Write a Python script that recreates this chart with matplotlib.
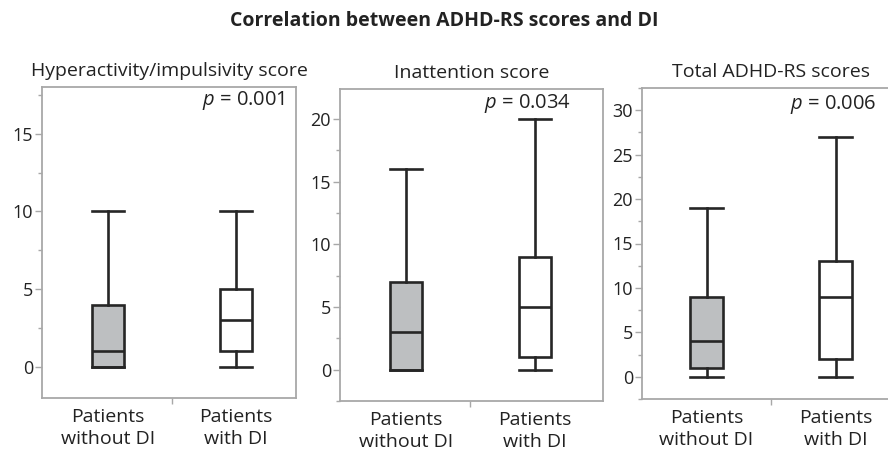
import matplotlib
matplotlib.use("Agg")
import matplotlib.pyplot as plt
from matplotlib.ticker import MultipleLocator, FixedLocator

plt.rcParams["font.family"] = ["Open Sans", "DejaVu Sans"]
plt.rcParams["mathtext.fontset"] = "custom"
plt.rcParams["mathtext.it"] = "Open Sans:italic"
plt.rcParams["mathtext.rm"] = "Open Sans"

# five-number summaries: whisker low, Q1, median, Q3, whisker high
GROUPS = ["Patients\nwithout DI", "Patients\nwith DI"]
PANEL_TITLES = ["Hyperactivity/impulsivity score", "Inattention score", "Total ADHD-RS scores"]
P_VALUES = ["0.001", "0.034", "0.006"]

hyper_without = [0, 0, 1, 4, 10]
hyper_with = [0, 1, 3, 5, 10]
inatt_without = [0, 0, 3, 7, 16]
inatt_with = [0, 1, 5, 9, 20]
total_without = [0, 1, 4, 9, 19]
total_with = [0, 2, 9, 13, 27]

PANEL_DATA = [
    (hyper_without, hyper_with),
    (inatt_without, inatt_with),
    (total_without, total_with),
]

# layout (pixels in an 888x450 figure): left, top, right, bottom
W, H = 888, 450
BOXES_PX = [(42, 87, 296, 398), (340, 89, 603, 401), (642, 88, 900, 399)]
YLIMS = [(-2, 18), (-2.5, 22.4), (-2.5, 32.5)]
YTICKS = [[0, 5, 10, 15], [0, 5, 10, 15, 20], [0, 5, 10, 15, 20, 25, 30]]
XLIMS = [(0.484, 2.469), (0.49, 2.53), (0.5, 2.5)]
P_POS = [(0.957, 0.955), (0.878, 0.955), (0.907, 0.948)]

FILLS = ["#bdbfc1", "white"]
EDGE = "#262626"
FRAME = "#a8a8a8"
TEXT = "#222222"


def stats(v, label):
    return {"whislo": v[0], "q1": v[1], "med": v[2], "q3": v[3], "whishi": v[4],
            "label": label, "fliers": []}


fig = plt.figure(figsize=(W / 100, H / 100), dpi=100)

for i, (l, t, r, b) in enumerate(BOXES_PX):
    ax = fig.add_axes([l / W, (H - b) / H, (r - l) / W, (b - t) / H])
    summaries = [stats(v, g) for v, g in zip(PANEL_DATA[i], GROUPS)]
    bp = ax.bxp(
        summaries, positions=[1, 2], widths=0.25, capwidths=0.25,
        patch_artist=True, showfliers=False,
        boxprops=dict(edgecolor=EDGE, linewidth=1.9),
        medianprops=dict(color=EDGE, linewidth=1.9),
        whiskerprops=dict(color=EDGE, linewidth=1.9),
        capprops=dict(color=EDGE, linewidth=1.9),
    )
    for patch, fc in zip(bp["boxes"], FILLS):
        patch.set_facecolor(fc)

    ax.set_xlim(*XLIMS[i])
    ax.set_ylim(*YLIMS[i])
    ax.yaxis.set_major_locator(FixedLocator(YTICKS[i]))
    ax.yaxis.set_minor_locator(MultipleLocator(2.5))
    ax.set_xticks([1, 2])
    ax.set_xticklabels(GROUPS, fontsize=14, color=TEXT, linespacing=1.3)
    ax.xaxis.set_minor_locator(FixedLocator([1.5]))
    ax.tick_params(axis="x", which="major", length=0, pad=7)
    ax.tick_params(axis="x", which="minor", length=4, color=FRAME, width=1)
    ax.tick_params(axis="y", which="major", length=5, color=FRAME, width=1,
                   labelsize=13, labelcolor=TEXT, pad=1.5)
    ax.tick_params(axis="y", which="minor", length=3, color=FRAME, width=1)
    for sp in ax.spines.values():
        sp.set_color(FRAME)
        sp.set_linewidth(1.3)

    ax.set_title(PANEL_TITLES[i], fontsize=14, color=TEXT, pad=8)
    px, py = P_POS[i]
    ax.text(px, py, r"$p$ = " + P_VALUES[i], transform=ax.transAxes,
            ha="right", va="center", fontsize=14.5, color=TEXT)

fig.suptitle("Correlation between ADHD-RS scores and DI", x=0.5, y=0.975,
             fontsize=14, fontweight="bold", color=TEXT)

fig.savefig("out.png", dpi=100)
